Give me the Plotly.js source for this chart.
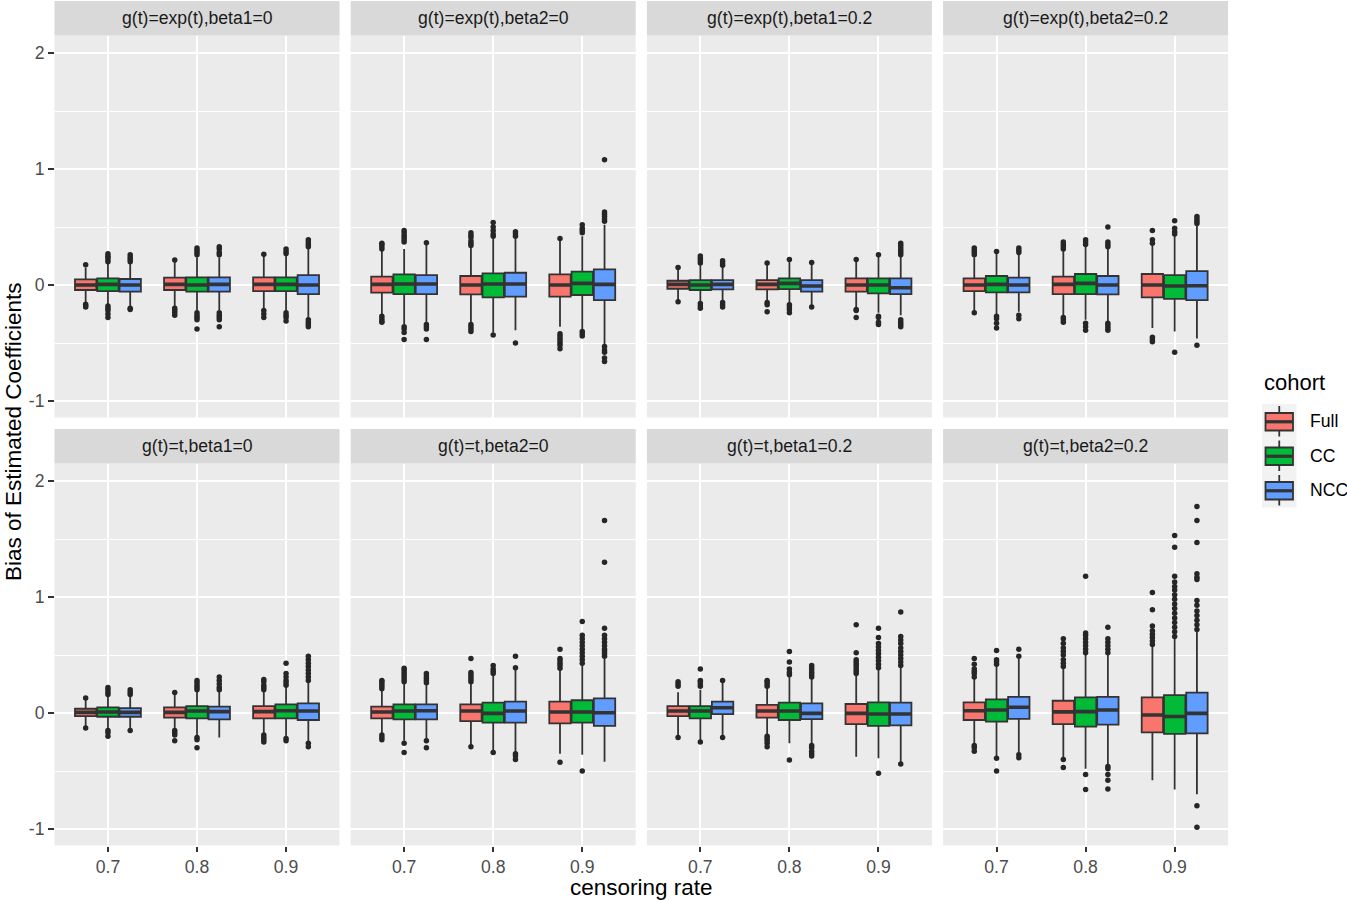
<!DOCTYPE html>
<html><head><meta charset="utf-8">
<script src="https://cdn.plot.ly/plotly-3.0.1.min.js"></script>
<style>html,body{margin:0;padding:0;background:#fff}#chart{width:1347px;height:901px}</style>
</head><body><div id="chart"></div>
<script>
// ---------------- data ----------------
const panelTitles = [
  'g(t)=exp(t),beta1=0', 'g(t)=exp(t),beta2=0', 'g(t)=exp(t),beta1=0.2', 'g(t)=exp(t),beta2=0.2',
  'g(t)=t,beta1=0', 'g(t)=t,beta2=0', 'g(t)=t,beta1=0.2', 'g(t)=t,beta2=0.2'
];
const rates = ['0.7', '0.8', '0.9'];
const cohorts = ['Full', 'CC', 'NCC'];
const cohortColors = ['#F8766D', '#00BA38', '#619CFF'];
const yTicks = [-1, 0, 1, 2];
const yTickText = ['-1', '0', '1', '2'];
const yMinorTicks = [-0.5, 0.5, 1.5];
const xTitle = 'censoring rate';
const yTitle = 'Bias of Estimated Coefficients';
const legendTitle = 'cohort';

// per panel: 9 boxes ordered [0.7 Full, 0.7 CC, 0.7 NCC, 0.8 Full, ..., 0.9 NCC]
const LO = [
  [-0.15, -0.17, -0.19, -0.18, -0.22, -0.22, -0.21, -0.23, -0.28],
  [-0.25, -0.34, -0.33, -0.33, -0.41, -0.39, -0.36, -0.39, -0.52],
  [-0.14, -0.15, -0.14, -0.14, -0.16, -0.19, -0.19, -0.24, -0.26],
  [-0.23, -0.25, -0.23, -0.26, -0.30, -0.31, -0.37, -0.40, -0.46],
  [-0.13, -0.13, -0.14, -0.14, -0.20, -0.21, -0.18, -0.21, -0.25],
  [-0.18, -0.24, -0.23, -0.29, -0.34, -0.34, -0.35, -0.36, -0.42],
  [-0.20, -0.24, -0.20, -0.19, -0.26, -0.27, -0.376, -0.39, -0.43],
  [-0.27, -0.37, -0.35, -0.38, -0.48, -0.45, -0.58, -0.66, -0.70]
];
const Q1 = [
  [-0.043, -0.052, -0.057, -0.043, -0.057, -0.057, -0.052, -0.052, -0.078],
  [-0.066, -0.078, -0.078, -0.080, -0.106, -0.100, -0.100, -0.086, -0.130],
  [-0.032, -0.043, -0.037, -0.037, -0.035, -0.057, -0.057, -0.072, -0.078],
  [-0.052, -0.063, -0.063, -0.078, -0.078, -0.080, -0.106, -0.120, -0.130],
  [-0.026, -0.032, -0.032, -0.040, -0.046, -0.055, -0.046, -0.046, -0.060],
  [-0.046, -0.055, -0.055, -0.070, -0.083, -0.083, -0.090, -0.083, -0.110],
  [-0.026, -0.046, -0.009, -0.040, -0.060, -0.052, -0.095, -0.110, -0.106],
  [-0.060, -0.075, -0.050, -0.095, -0.118, -0.100, -0.167, -0.180, -0.175]
];
const MED = [
  [0.000, 0.006, 0.000, 0.006, 0.000, 0.006, 0.006, 0.006, 0.000],
  [0.006, 0.009, 0.009, 0.000, 0.009, 0.009, 0.000, 0.014, 0.006],
  [0.006, 0.000, 0.006, 0.006, 0.014, -0.009, 0.000, 0.000, -0.023],
  [0.000, 0.006, 0.000, 0.006, 0.014, 0.000, 0.000, -0.009, -0.006],
  [0.006, 0.009, 0.006, 0.006, 0.017, 0.012, 0.012, 0.020, 0.017],
  [0.009, 0.017, 0.020, 0.017, -0.003, 0.017, 0.009, 0.009, 0.003],
  [0.017, 0.017, 0.046, 0.017, 0.017, -0.003, -0.003, -0.009, -0.009],
  [0.020, 0.026, 0.050, 0.010, 0.012, 0.026, -0.017, -0.030, -0.003]
];
const Q3 = [
  [0.049, 0.057, 0.052, 0.063, 0.066, 0.066, 0.066, 0.066, 0.086],
  [0.072, 0.092, 0.086, 0.078, 0.100, 0.106, 0.092, 0.115, 0.135],
  [0.037, 0.043, 0.043, 0.043, 0.057, 0.043, 0.057, 0.057, 0.057],
  [0.057, 0.078, 0.063, 0.072, 0.095, 0.078, 0.095, 0.086, 0.120],
  [0.037, 0.049, 0.043, 0.049, 0.060, 0.055, 0.060, 0.075, 0.083],
  [0.055, 0.075, 0.075, 0.075, 0.090, 0.098, 0.098, 0.110, 0.126],
  [0.060, 0.060, 0.098, 0.070, 0.089, 0.083, 0.078, 0.092, 0.089],
  [0.092, 0.118, 0.140, 0.106, 0.135, 0.140, 0.135, 0.155, 0.175]
];
const HI = [
  [0.15, 0.19, 0.19, 0.20, 0.24, 0.24, 0.25, 0.25, 0.31],
  [0.30, 0.31, 0.36, 0.33, 0.40, 0.40, 0.40, 0.42, 0.52],
  [0.15, 0.17, 0.16, 0.19, 0.22, 0.195, 0.22, 0.26, 0.25],
  [0.24, 0.29, 0.27, 0.30, 0.34, 0.32, 0.36, 0.43, 0.52],
  [0.13, 0.15, 0.15, 0.178, 0.19, 0.19, 0.19, 0.23, 0.27],
  [0.20, 0.26, 0.25, 0.26, 0.32, 0.38, 0.37, 0.42, 0.47],
  [0.18, 0.20, 0.28, 0.22, 0.31, 0.30, 0.33, 0.38, 0.40],
  [0.30, 0.42, 0.47, 0.39, 0.50, 0.50, 0.58, 0.65, 0.70]
];
const OUT = [
  [
    [0.175, -0.165, -0.18, -0.19],
    [0.20, 0.22, 0.24, 0.25, 0.27, -0.18, -0.20, -0.22, -0.25, -0.28],
    [0.20, 0.22, 0.24, 0.26, -0.20, -0.21],
    [0.215, -0.20, -0.22, -0.24, -0.26],
    [0.26, 0.28, 0.30, 0.32, -0.24, -0.26, -0.28, -0.30, -0.38],
    [0.26, 0.28, 0.31, 0.33, -0.24, -0.26, -0.28, -0.30, -0.36],
    [0.265, -0.22, -0.25, -0.28],
    [0.27, 0.29, 0.31, -0.24, -0.26, -0.28, -0.31],
    [0.33, 0.35, 0.37, 0.39, -0.30, -0.32, -0.34, -0.36]
  ],
  [
    [0.31, 0.33, 0.35, 0.36, -0.27, -0.29, -0.31, -0.32],
    [0.37, 0.39, 0.41, 0.43, 0.45, 0.47, -0.36, -0.38, -0.41, -0.47],
    [0.365, -0.34, -0.36, -0.38, -0.47],
    [0.34, 0.36, 0.38, 0.41, 0.43, 0.45, -0.34, -0.36, -0.38, -0.40],
    [0.42, 0.44, 0.47, 0.50, 0.54, -0.43],
    [0.42, 0.44, 0.46, -0.50],
    [0.40, -0.42, -0.44, -0.46, -0.48, -0.50, -0.52, -0.55],
    [0.45, 0.47, 0.49, 0.52, -0.40, -0.42, -0.44],
    [0.55, 0.57, 0.59, 0.61, 0.63, 1.08, -0.53, -0.56, -0.58, -0.63, -0.66]
  ],
  [
    [0.15, -0.145],
    [0.19, 0.21, 0.23, 0.25, -0.16, -0.18, -0.20],
    [0.17, 0.19, 0.21, -0.15, -0.17, -0.19],
    [0.19, -0.15, -0.17, -0.23],
    [0.22, -0.17, -0.19, -0.21, -0.24],
    [0.195, -0.19],
    [0.22, -0.21, -0.22, -0.28],
    [0.26, -0.27, -0.28, -0.32, -0.34],
    [0.26, 0.28, 0.30, 0.32, 0.34, 0.36, -0.30, -0.32, -0.34, -0.36]
  ],
  [
    [0.26, 0.28, 0.30, 0.32, -0.24],
    [0.29, -0.27, -0.29, -0.33, -0.37],
    [0.28, 0.30, 0.32, -0.26, -0.29],
    [0.31, 0.33, 0.35, 0.37, -0.28, -0.30, -0.32],
    [0.35, 0.37, 0.39, -0.33, -0.36, -0.39],
    [0.33, 0.35, 0.37, 0.50, -0.33, -0.35, -0.37, -0.39],
    [0.36, 0.39, 0.47, -0.45, -0.47, -0.49],
    [0.44, 0.46, 0.49, 0.555, -0.58],
    [0.53, 0.55, 0.57, 0.59, -0.52]
  ],
  [
    [0.13, -0.13],
    [0.16, 0.18, 0.20, 0.22, -0.15, -0.17, -0.20],
    [0.16, 0.18, 0.20, -0.15],
    [0.178, -0.15, -0.17, -0.19, -0.24],
    [0.20, 0.22, 0.24, 0.26, 0.28, -0.21, -0.23, -0.30],
    [0.20, 0.22, 0.25, 0.28, 0.31],
    [0.20, 0.22, 0.24, 0.27, 0.29, -0.19, -0.21, -0.23, -0.25],
    [0.24, 0.26, 0.28, 0.31, 0.34, 0.43, -0.22, -0.24],
    [0.28, 0.31, 0.34, 0.37, 0.40, 0.43, 0.46, 0.49, -0.26, -0.29]
  ],
  [
    [0.21, 0.23, 0.25, 0.27, 0.28, -0.19, -0.21, -0.23],
    [0.27, 0.29, 0.31, 0.33, 0.35, 0.37, 0.385, -0.26, -0.34],
    [0.26, 0.28, 0.30, 0.32, 0.34, -0.24, -0.30],
    [0.27, 0.29, 0.31, 0.33, 0.35, 0.47, -0.29],
    [0.34, 0.36, 0.38, 0.41, -0.34],
    [0.39, 0.49, -0.35, -0.37, -0.40],
    [0.385, 0.41, 0.43, 0.45, 0.47, 0.55, -0.425],
    [0.43, 0.46, 0.49, 0.52, 0.55, 0.58, 0.61, 0.64, 0.67, 0.79, -0.50],
    [0.49, 0.51, 0.53, 0.55, 0.58, 0.61, 0.64, 0.67, 0.73, 1.30, 1.66]
  ],
  [
    [0.23, 0.25, 0.27, -0.21],
    [0.23, 0.25, 0.27, 0.28, 0.38, -0.25],
    [0.28, -0.21],
    [0.23, 0.25, 0.27, 0.28, -0.20, -0.22, -0.24, -0.26, -0.29],
    [0.33, 0.35, 0.38, 0.44, 0.53, -0.405],
    [0.31, 0.33, 0.35, 0.37, 0.39, 0.41, -0.28, -0.30, -0.33, -0.35, -0.37],
    [0.34, 0.36, 0.38, 0.40, 0.42, 0.44, 0.46, 0.52, 0.76],
    [0.39, 0.42, 0.45, 0.48, 0.51, 0.54, 0.57, 0.60, 0.65, 0.73, -0.52],
    [0.41, 0.44, 0.47, 0.50, 0.53, 0.56, 0.60, 0.63, 0.66, 0.87, -0.44]
  ],
  [
    [0.31, 0.34, 0.36, 0.38, 0.42, 0.47, -0.28, -0.30, -0.33],
    [0.42, 0.44, 0.46, 0.54, -0.39, -0.50],
    [0.49, 0.55, -0.36, -0.385],
    [0.40, 0.43, 0.46, 0.50, 0.53, 0.56, 0.60, 0.64, -0.40, -0.47],
    [0.52, 0.55, 0.58, 0.61, 0.64, 0.67, 0.69, 1.18, -0.53, -0.66],
    [0.52, 0.55, 0.58, 0.61, 0.64, 0.74, -0.46, -0.48, -0.53, -0.58, -0.655],
    [0.59, 0.62, 0.65, 0.68, 0.71, 0.75, 0.89, 1.04],
    [0.66, 0.70, 0.74, 0.78, 0.82, 0.86, 0.90, 0.94, 0.98, 1.02, 1.06, 1.09, 1.13, 1.18, 1.43, 1.53],
    [0.72, 0.76, 0.80, 0.84, 0.88, 0.93, 0.97, 1.15, 1.17, 1.20, 1.47, 1.66, 1.78, -0.80, -0.985]
  ]
];

// ---------------- layout geometry (pixels) ----------------
const W = 1347, H = 901;
const FONT = '"Liberation Sans", Arial, Helvetica, sans-serif';
const colLeft = [54.5, 350.7, 646.9, 943.1];
const panelW = 285;
const stripTop = [1, 429];
const stripH = 34.5;
const panelTop = [35.5, 463.5];
const panelH = 382;
const dodge = [-0.25, 0, 0.25];
const boxW = 0.24;
const LINE = '#333333';

const px = v => v / W;
const py = v => 1 - v / H;

const traces = [];
const layout = {
  width: W, height: H,
  margin: {l: 0, r: 0, t: 0, b: 0},
  paper_bgcolor: '#FFFFFF',
  plot_bgcolor: '#EBEBEB',
  showlegend: false,
  hovermode: false,
  boxmode: 'overlay',
  font: {family: FONT, color: '#000000'},
  shapes: [],
  annotations: []
};

for (let k = 0; k < panelTitles.length; k++) {
  const row = Math.floor(k / 4), col = k % 4;
  const s = k === 0 ? '' : String(k + 1);
  const xa = 'x' + s, ya = 'y' + s;

  for (let c = 0; c < cohorts.length; c++) {
    const xs = rates.map((_, r) => r + 1 + dodge[c]);
    const pick = A => rates.map((_, r) => A[k][r * 3 + c]);
    // outliers
    const ox = [], oy = [];
    rates.forEach((_, r) => {
      OUT[k][r * 3 + c].forEach(v => { ox.push(r + 1 + dodge[c]); oy.push(v); });
    });
    traces.push({
      type: 'scatter', mode: 'markers', xaxis: xa, yaxis: ya,
      x: ox, y: oy, marker: {size: 5.5, color: '#262626'},
      showlegend: false, hoverinfo: 'skip'
    });
    traces.push({
      type: 'box', orientation: 'v', xaxis: xa, yaxis: ya, name: cohorts[c],
      x: xs, q1: pick(Q1), median: pick(MED), q3: pick(Q3),
      lowerfence: pick(LO), upperfence: pick(HI),
      width: boxW, whiskerwidth: 0, boxpoints: false,
      fillcolor: cohortColors[c], line: {color: LINE, width: 1.8},
      showlegend: false, hoverinfo: 'skip'
    });
    // thick median segments
    const mx = [], my = [];
    rates.forEach((_, r) => {
      const xc = r + 1 + dodge[c], m = MED[k][r * 3 + c];
      mx.push(xc - boxW / 2, xc + boxW / 2, null); my.push(m, m, null);
    });
    traces.push({
      type: 'scatter', mode: 'lines', xaxis: xa, yaxis: ya,
      x: mx, y: my, line: {color: LINE, width: 3.6},
      showlegend: false, hoverinfo: 'skip'
    });
  }

  const x0 = colLeft[col], pt = panelTop[row];
  layout['xaxis' + s] = {
    domain: [px(x0), px(x0 + panelW)], anchor: ya,
    range: [0.4, 3.6], tickmode: 'array', tickvals: [1, 2, 3], ticktext: rates,
    showgrid: true, gridcolor: '#FFFFFF', gridwidth: 2,
    zeroline: false, showline: false,
    ticks: row === 1 ? 'outside' : '', ticklen: 5.5, tickwidth: 2, tickcolor: LINE,
    showticklabels: row === 1,
    tickfont: {family: FONT, size: 17.6, color: '#4D4D4D'},
    fixedrange: true
  };
  layout['yaxis' + s] = {
    domain: [py(pt + panelH), py(pt)], anchor: xa,
    range: [-1.142, 2.151], tickmode: 'array', tickvals: yTicks, ticktext: yTickText,
    showgrid: true, gridcolor: '#FFFFFF', gridwidth: 2,
    minor: {tickmode: 'array', tickvals: yMinorTicks, showgrid: true, gridcolor: '#FFFFFF', gridwidth: 1, ticks: ''},
    zeroline: false, showline: false,
    ticks: col === 0 ? 'outside' : '', ticklen: 5.5, tickwidth: 2, tickcolor: LINE,
    showticklabels: col === 0,
    tickfont: {family: FONT, size: 17.6, color: '#4D4D4D'},
    fixedrange: true
  };

  // strip
  layout.shapes.push({
    type: 'rect', xref: 'paper', yref: 'paper',
    x0: px(x0), x1: px(x0 + panelW), y0: py(stripTop[row] + stripH), y1: py(stripTop[row]),
    fillcolor: '#D9D9D9', line: {width: 0}
  });
  layout.annotations.push({
    xref: 'paper', yref: 'paper', x: px(x0 + panelW / 2), y: py(stripTop[row] + stripH / 2),
    xanchor: 'center', yanchor: 'middle', showarrow: false,
    text: panelTitles[k], font: {family: FONT, size: 17.6, color: '#1A1A1A'}
  });
}

// axis titles
layout.annotations.push({
  xref: 'paper', yref: 'paper', x: px((colLeft[0] + colLeft[3] + panelW) / 2), y: py(887),
  xanchor: 'center', yanchor: 'middle', showarrow: false,
  text: xTitle, font: {family: FONT, size: 22.5, color: '#000000'}
});
layout.annotations.push({
  xref: 'paper', yref: 'paper', x: px(13), y: py(432),
  xanchor: 'center', yanchor: 'middle', showarrow: false, textangle: -90,
  text: yTitle, font: {family: FONT, size: 22.5, color: '#000000'}
});

// manual legend (ggplot style)
const legX = 1262, keyS = 34.5, legTop = 404;
layout.annotations.push({
  xref: 'paper', yref: 'paper', x: px(legX), y: py(382),
  xanchor: 'left', yanchor: 'middle', showarrow: false,
  text: legendTitle, font: {family: FONT, size: 22, color: '#000000'}
});
cohorts.forEach((name, c) => {
  const t = legTop + c * keyS, cx = legX + keyS / 2;
  layout.shapes.push({type: 'rect', xref: 'paper', yref: 'paper',
    x0: px(legX), x1: px(legX + keyS), y0: py(t + keyS), y1: py(t),
    fillcolor: '#F2F2F2', line: {width: 0}});
  layout.shapes.push({type: 'line', xref: 'paper', yref: 'paper',
    x0: px(cx), x1: px(cx), y0: py(t + keyS - 2), y1: py(t + 2),
    line: {color: LINE, width: 1.8}});
  layout.shapes.push({type: 'rect', xref: 'paper', yref: 'paper',
    x0: px(legX + 3.5), x1: px(legX + keyS - 3.5), y0: py(t + keyS - 8), y1: py(t + 9),
    fillcolor: cohortColors[c], line: {color: LINE, width: 1.8}});
  layout.shapes.push({type: 'line', xref: 'paper', yref: 'paper',
    x0: px(legX + 3.5), x1: px(legX + keyS - 3.5), y0: py(t + keyS / 2 + 0.5), y1: py(t + keyS / 2 + 0.5),
    line: {color: LINE, width: 3.2}});
  layout.annotations.push({
    xref: 'paper', yref: 'paper', x: px(legX + keyS + 11), y: py(t + keyS / 2),
    xanchor: 'left', yanchor: 'middle', showarrow: false,
    text: name, font: {family: FONT, size: 17.6, color: '#000000'}
  });
});

Plotly.newPlot('chart', traces, layout, {displayModeBar: false, staticPlot: true});
</script>
</body></html>
